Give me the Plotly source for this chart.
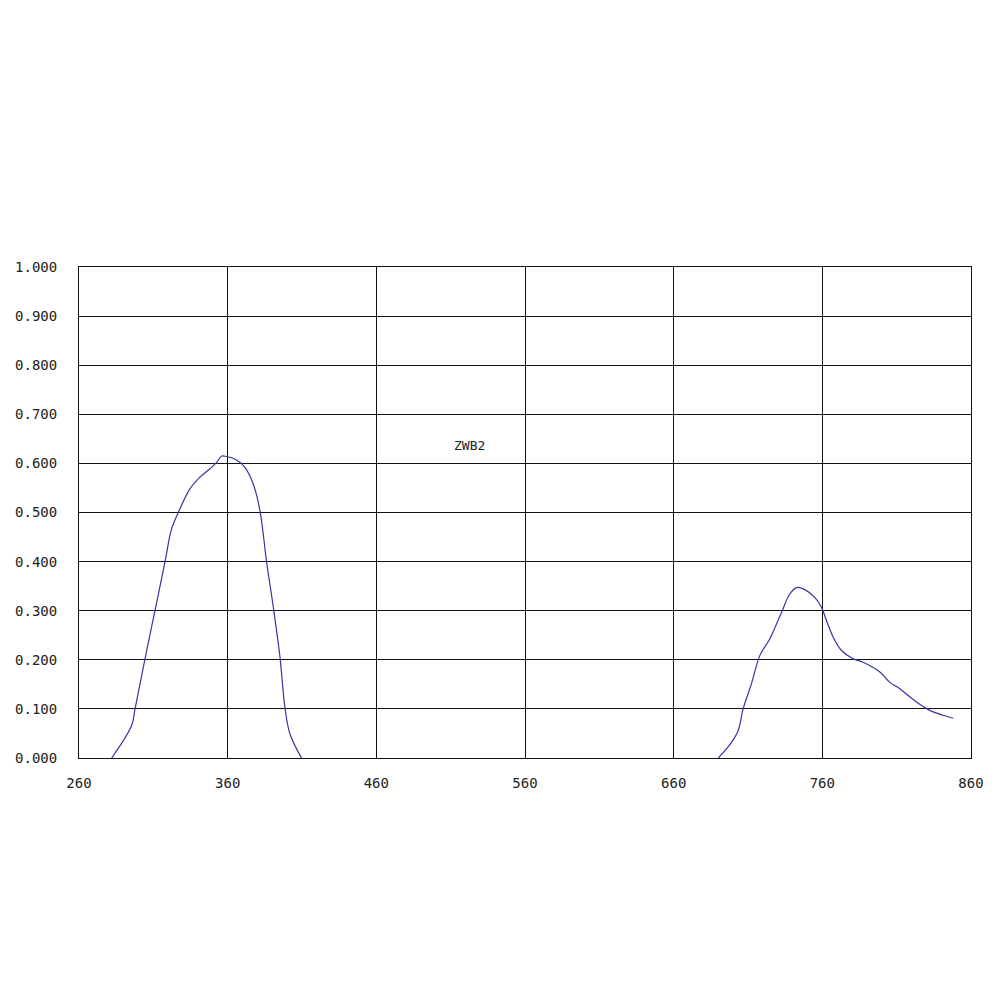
import plotly.graph_objects as go

# Band 1 (UV)
wl1 = [282, 295.4, 297.7, 304.4, 311.1, 317.8, 322.3, 326.8, 334.6, 341.4, 348.1, 352.6, 356, 359.3, 366, 371.6, 377.2, 381.7, 386.2, 390.7, 395.2, 398.5, 401.9, 409.7]
t1 = [0.0, 0.066, 0.10, 0.202, 0.30, 0.399, 0.467, 0.50, 0.548, 0.572, 0.589, 0.602, 0.615, 0.614, 0.607, 0.592, 0.558, 0.504, 0.399, 0.307, 0.205, 0.103, 0.049, 0.0]
# Band 2 (IR)
wl2 = [690, 698.9, 703.4, 706.7, 712.3, 718, 724.7, 732.6, 738.1, 742.6, 748.2, 754.9, 759.4, 762.8, 767.3, 772.9, 780.7, 787.4, 798.7, 805.4, 812.1, 823.3, 832.3, 841.2, 848]
t2 = [0.0, 0.032, 0.056, 0.10, 0.151, 0.209, 0.243, 0.297, 0.334, 0.347, 0.343, 0.327, 0.307, 0.28, 0.246, 0.219, 0.202, 0.195, 0.175, 0.154, 0.141, 0.114, 0.097, 0.087, 0.081]

x_ticks = [260, 360, 460, 560, 660, 760, 860]
y_ticks = [0.0, 0.1, 0.2, 0.3, 0.4, 0.5, 0.6, 0.7, 0.8, 0.9, 1.0]
y_tick_labels = ["0.000", "0.100", "0.200", "0.300", "0.400", "0.500", "0.600", "0.700", "0.800", "0.900", "1.000"]
label_text = "ZWB2"

line_color = "#3535a5"
font_family = "DejaVu Sans Mono, Liberation Mono, monospace"

fig = go.Figure()
fig.add_trace(go.Scatter(x=wl1, y=t1, mode="lines", line=dict(color=line_color, width=1.2, shape="spline", smoothing=1.0), showlegend=False))
fig.add_trace(go.Scatter(x=wl2, y=t2, mode="lines", line=dict(color=line_color, width=1.2, shape="spline", smoothing=1.0), showlegend=False))

fig.add_annotation(x=523, y=0.636, text=label_text, showarrow=False, font=dict(size=13, color="#222222", family=font_family))

fig.update_layout(
    width=1000, height=1000,
    margin=dict(l=71, r=37, t=259, b=250, autoexpand=False),
    paper_bgcolor="white", plot_bgcolor="white",
    font=dict(family=font_family, size=14, color="#222222"),
    xaxis=dict(range=[260, 860], tickvals=x_ticks, ticktext=[str(v) for v in x_ticks],
               showgrid=True, gridcolor="#111111", gridwidth=1, zeroline=False,
               showline=True, linecolor="#111111", linewidth=1, mirror=True, automargin=False,
               ticks="outside", ticklen=12, tickcolor="white"),
    yaxis=dict(range=[0, 1.0], tickvals=y_ticks, ticktext=y_tick_labels,
               showgrid=True, gridcolor="#111111", gridwidth=1, zeroline=False,
               showline=True, linecolor="#111111", linewidth=1, mirror=True, automargin=False,
               ticks="outside", ticklen=18, tickcolor="white"),
)

fig.write_html("out.html")
